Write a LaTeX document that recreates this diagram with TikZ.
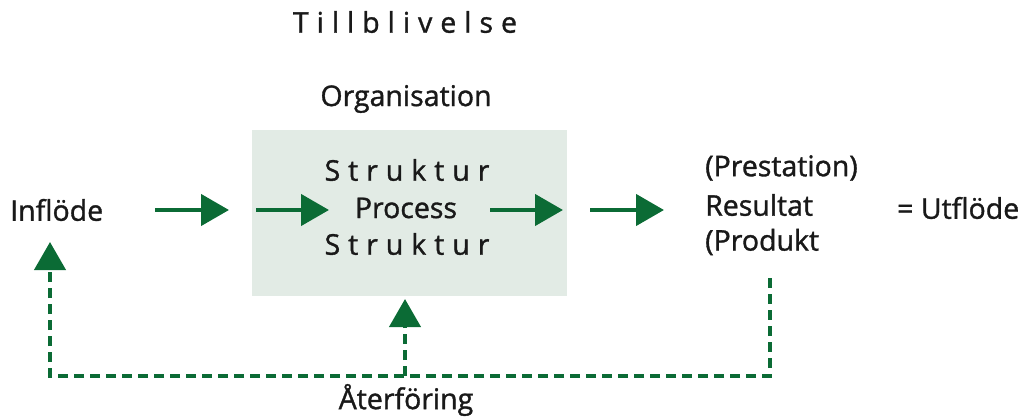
\documentclass[tikz,border=0pt]{standalone}
\usepackage{fontspec}
\setmainfont{Open Sans}
\newfontfamily\mainf[FakeBold=1.2]{Open Sans}
\newfontfamily\spacedfont[LetterSpace=28,FakeBold=1.2]{Open Sans}
\usetikzlibrary{arrows.meta}
\definecolor{agreen}{HTML}{0B6B35}
\definecolor{boxfill}{HTML}{E2EBE5}
\begin{document}
\begin{tikzpicture}[x=1pt,y=-1pt,
  lbl/.style={font=\mainf\fontsize{28.5}{32}\selectfont, inner sep=0pt, text=black!90},
  spaced/.style={font=\spacedfont\fontsize{28.5}{32}\selectfont, inner sep=0pt, text=black!90},
  flow/.style={agreen, line width=4.5pt, -{Triangle[length=28pt,width=31pt]}},
  fb/.style={agreen, line width=4.2pt, dash pattern=on 10pt off 6pt},
  fbarrow/.style={fb, -{Triangle[length=28pt,width=31pt]}}]
\useasboundingbox (0,0) rectangle (1029,417);
\node[spaced] (till) at (405,22) {Tillblivelse};
\node[lbl] (org) at (406,99) {Organisation};
\node[fill=boxfill, minimum width=315pt, minimum height=166pt, inner sep=0pt] (box) at (409.5,213) {};
\node[spaced] (s1) at (407,170) {Struktur};
\node[lbl] (proc) at (406,208) {Process};
\node[spaced] (s2) at (407,244) {Struktur};
\node[lbl, anchor=west] (in) at (10,210) {Inflöde};
\node[lbl, anchor=west] (prest) at (705,168) {(Prestation)};
\node[lbl, anchor=west] (res) at (705,205) {Resultat};
\node[lbl, anchor=west] (prod) at (705,242) {(Produkt};
\node[lbl, anchor=west] (ut) at (897,208) {= Utflöde};
\node[lbl] (ater) at (406,400) {Återföring};
\coordinate (a1s) at (155,210); \coordinate (a1e) at (229,210);
\coordinate (a2s) at (256,210); \coordinate (a2e) at (329,210);
\coordinate (a3s) at (490,210); \coordinate (a3e) at (563,210);
\coordinate (a4s) at (590,210); \coordinate (a4e) at (664,210);
\draw[flow] (a1s) -- (a1e);
\draw[flow] (a2s) -- (a2e);
\draw[flow] (a3s) -- (a3e);
\draw[flow] (a4s) -- (a4e);
\coordinate (d0) at (770,278);
\coordinate (d1) at (770,376);
\coordinate (d2) at (50,376);
\coordinate (d3) at (50,242);
\coordinate (m0) at (405,376);
\coordinate (m1) at (405,299);
\draw[fbarrow] (d0) -- (d1) -- (d2) -- (d3);
\draw[fbarrow] (m0) -- (m1);
\end{tikzpicture}
\end{document}
